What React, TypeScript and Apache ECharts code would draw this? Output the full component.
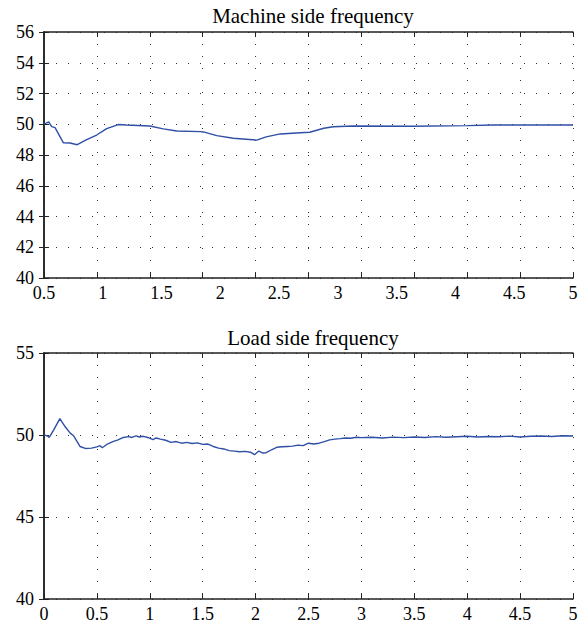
import React, { useEffect, useRef } from "react";
import * as echarts from "echarts";

// Machine side frequency (x read on the printed 0.5..5 axis)
const machineT = [0.5, 0.54, 0.566, 0.594, 0.664, 0.721, 0.783, 0.863, 0.948, 1.033, 1.132, 1.2, 1.4, 1.515, 1.63, 1.83, 1.855, 1.97, 2.11, 2.31, 2.39, 2.51, 2.68, 2.76, 2.88, 2.96, 3.13, 3.64, 4.1, 4.32, 5.0];
const machineF = [50.0, 50.16, 49.85, 49.78, 48.8, 48.78, 48.67, 49.0, 49.3, 49.72, 49.98, 49.95, 49.89, 49.7, 49.56, 49.52, 49.5, 49.26, 49.09, 48.97, 49.18, 49.37, 49.45, 49.48, 49.74, 49.84, 49.89, 49.87, 49.91, 49.95, 49.95];

// Load side frequency
const loadT = [0, 0.03, 0.05, 0.1, 0.15, 0.2, 0.25, 0.28, 0.34, 0.39, 0.45, 0.5, 0.53, 0.55, 0.6, 0.65, 0.7, 0.75, 0.8, 0.83, 0.87, 0.9, 0.94, 0.98, 1.03, 1.06, 1.1, 1.15, 1.2, 1.25, 1.3, 1.35, 1.4, 1.45, 1.5, 1.55, 1.6, 1.65, 1.7, 1.75, 1.8, 1.85, 1.9, 1.95, 1.99, 2.03, 2.07, 2.1, 2.15, 2.2, 2.25, 2.3, 2.35, 2.4, 2.45, 2.5, 2.55, 2.6, 2.65, 2.7, 2.75, 2.8, 2.85, 2.9, 2.95, 3.0, 3.1, 3.2, 3.3, 3.4, 3.5, 3.6, 3.7, 3.8, 3.9, 4.0, 4.1, 4.2, 4.3, 4.4, 4.5, 4.6, 4.7, 4.8, 4.9, 5.0];
const loadF = [50.0, 49.95, 49.85, 50.4, 51.0, 50.5, 50.1, 49.95, 49.3, 49.18, 49.2, 49.28, 49.35, 49.22, 49.45, 49.6, 49.7, 49.85, 49.9, 49.85, 49.95, 49.88, 49.92, 49.85, 49.72, 49.82, 49.75, 49.68, 49.55, 49.6, 49.5, 49.55, 49.48, 49.52, 49.43, 49.45, 49.3, 49.2, 49.15, 49.05, 49.02, 48.98, 49.0, 48.95, 48.8, 49.02, 48.9, 48.92, 49.1, 49.25, 49.28, 49.3, 49.32, 49.38, 49.35, 49.5, 49.45, 49.5, 49.6, 49.7, 49.75, 49.78, 49.82, 49.8, 49.86, 49.84, 49.86, 49.82, 49.87, 49.84, 49.88, 49.85, 49.9, 49.86, 49.89, 49.92, 49.88, 49.91, 49.89, 49.93, 49.88, 49.92, 49.94, 49.91, 49.95, 49.94];

const titles = ["Machine side frequency", "Load side frequency"];

const FONT = "Liberation Serif";
const AXIS_COLOR = "#222";
const LINE_COLOR = "#2f4fa6";

export default function App() {
  const ref = useRef<HTMLDivElement>(null);
  useEffect(() => {
    if (!ref.current) return;
    const chart = echarts.init(ref.current, undefined, { renderer: "svg" });
    const fmt = (v: number) => "{a|" + String(v) + "}";
    const rich = { a: { fontFamily: FONT, fontSize: 18, color: "#000" } };
    const label = { color: "#000", fontFamily: FONT, fontSize: 18, formatter: fmt, rich };
    const dotted = { show: true, lineStyle: { color: "#333", width: 1, type: [1, 11] } };
    const line = { show: true, lineStyle: { color: AXIS_COLOR, width: 1.5 } };
    const tick = { show: true, inside: true, length: 5, lineStyle: { color: AXIS_COLOR, width: 1 } };
    const none = { show: false };
    const titleStyle = { fontFamily: FONT, fontSize: 21, fontWeight: "normal", color: "#000" };

    const option: any = {
      animation: false,
      backgroundColor: "#fff",
      textStyle: { fontFamily: FONT },
      title: [
        { text: titles[0], left: 308, top: 0, textAlign: "center", textStyle: titleStyle },
        { text: titles[1], left: 308, top: 322, textAlign: "center", textStyle: titleStyle },
      ],
      grid: [
        { left: 44, top: 32, width: 529, height: 246 },
        { left: 44, top: 353, width: 529, height: 246 },
      ],
      xAxis: [
        // top chart: printed labels 0.5..5
        { gridIndex: 0, type: "value", min: 0.5, max: 5, interval: 0.5, position: "bottom", axisLine: line, axisTick: none, splitLine: none, axisLabel: { ...label, margin: 6, showMinLabel: true, showMaxLabel: true } },
        // top chart: ticks and grid (10 divisions)
        { gridIndex: 0, type: "value", min: 0, max: 5, interval: 0.5, position: "bottom", axisLine: none, axisTick: tick, splitLine: dotted, axisLabel: none },
        { gridIndex: 0, type: "value", min: 0, max: 5, interval: 0.5, position: "top", axisLine: line, axisTick: tick, splitLine: none, axisLabel: none },
        // bottom chart
        { gridIndex: 1, type: "value", min: 0, max: 5, interval: 0.5, position: "bottom", axisLine: line, axisTick: tick, splitLine: dotted, axisLabel: { ...label, margin: 6 } },
        { gridIndex: 1, type: "value", min: 0, max: 5, interval: 0.5, position: "top", axisLine: line, axisTick: tick, splitLine: none, axisLabel: none },
      ],
      yAxis: [
        { gridIndex: 0, type: "value", min: 40, max: 56, interval: 2, position: "left", axisLine: line, axisTick: tick, splitLine: dotted, axisLabel: { ...label, margin: 10 } },
        { gridIndex: 0, type: "value", min: 40, max: 56, interval: 2, position: "right", axisLine: line, axisTick: tick, splitLine: none, axisLabel: none },
        { gridIndex: 1, type: "value", min: 40, max: 55, interval: 5, position: "left", axisLine: line, axisTick: tick, splitLine: dotted, axisLabel: { ...label, margin: 10 } },
        { gridIndex: 1, type: "value", min: 40, max: 55, interval: 5, position: "right", axisLine: line, axisTick: tick, splitLine: none, axisLabel: none },
      ],
      series: [
        {
          type: "line", xAxisIndex: 0, yAxisIndex: 0, showSymbol: false,
          data: machineT.map((t, i) => [t, machineF[i]]),
          lineStyle: { color: LINE_COLOR, width: 1.4 },
        },
        {
          type: "line", xAxisIndex: 3, yAxisIndex: 2, showSymbol: false,
          data: loadT.map((t, i) => [t, loadF[i]]),
          lineStyle: { color: LINE_COLOR, width: 1.4 },
        },
      ],
    };
    chart.setOption(option);
    return () => chart.dispose();
  }, []);
  return <div ref={ref} style={{ position: "absolute", left: 0, top: 0, width: 588, height: 631 }} />;
}
